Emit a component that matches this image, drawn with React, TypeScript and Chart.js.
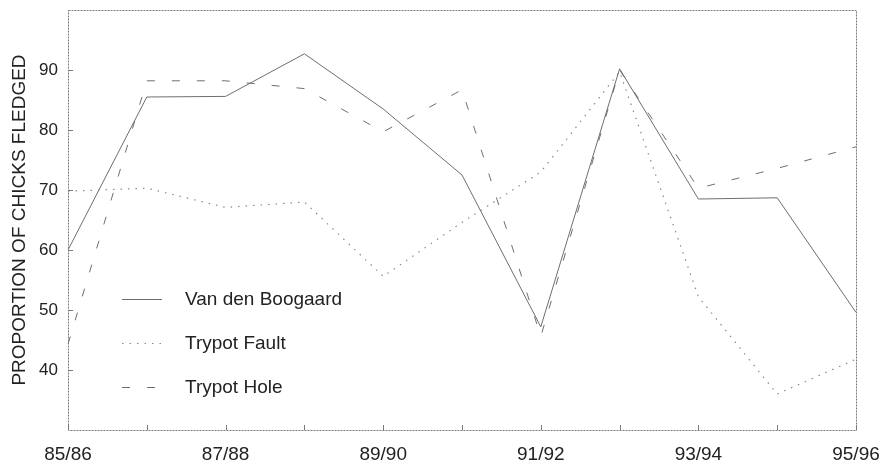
import React, { useEffect, useRef } from 'react';
import { Chart, registerables } from 'chart.js';

Chart.register(...registerables);

const seasons = ['85/86', '86/87', '87/88', '88/89', '89/90', '90/91', '91/92', '92/93', '93/94', '94/95', '95/96'];
const vanDenBoogaard = [60, 85.5, 85.6, 92.7, 83.5, 72.5, 47.2, 90.2, 68.5, 68.7, 49.6];
const trypotFault = [69.8, 70.3, 67.1, 68, 55.6, 64.6, 73, 89.7, 52.2, 36, 41.8];
const trypotHole = [44.3, 88.2, 88.2, 86.9, 79.7, 86.7, 45.6, 90, 70.3, 73.6, 77.2];
const seriesNames = ['Van den Boogaard', 'Trypot Fault', 'Trypot Hole'];
const yTickValues = [40, 50, 60, 70, 80, 90];
const yMin = 30;
const yMax = 100;
const yTitle = 'PROPORTION OF CHICKS FLEDGED';

const FONT = "'Liberation Sans', Arial, Helvetica, sans-serif";
const LINE = '#7a7a7a';
const TEXT = '#222222';

const framePlugin = {
  id: 'frame',
  afterDatasetsDraw(chart: any) {
    const { ctx, chartArea, scales } = chart;
    ctx.save();
    ctx.strokeStyle = LINE;
    ctx.lineWidth = 1;
    ctx.beginPath();
    scales.x.ticks.forEach((_t: any, i: number) => {
      const x = Math.round(scales.x.getPixelForTick(i)) + 0.5;
      ctx.moveTo(x, chartArea.bottom);
      ctx.lineTo(x, chartArea.bottom - 5);
    });
    scales.y.ticks.forEach((t: any, i: number) => {
      if (!yTickValues.includes(t.value)) return;
      const y = Math.round(scales.y.getPixelForTick(i)) + 0.5;
      ctx.moveTo(chartArea.left, y);
      ctx.lineTo(chartArea.left + 5, y);
    });
    ctx.stroke();
    ctx.setLineDash([2, 1]);
    ctx.strokeRect(
      Math.round(chartArea.left) + 0.5,
      Math.round(chartArea.top) + 0.5,
      Math.round(chartArea.width),
      Math.round(chartArea.height)
    );
    ctx.restore();
  },
};

const legendPlugin = {
  id: 'insideLegend',
  afterDraw(chart: any) {
    const { ctx, chartArea } = chart;
    ctx.save();
    chart.data.datasets.forEach((ds: any, i: number) => {
      const y = chartArea.bottom - 131 + i * 44 + 0.5;
      const x0 = chartArea.left + 54;
      ctx.strokeStyle = ds.borderColor;
      ctx.lineWidth = ds.borderWidth;
      ctx.setLineDash(ds.borderDash || []);
      ctx.beginPath();
      ctx.moveTo(x0, y);
      ctx.lineTo(x0 + 40, y);
      ctx.stroke();
      ctx.setLineDash([]);
      ctx.fillStyle = TEXT;
      ctx.font = `19px ${FONT}`;
      ctx.textBaseline = 'middle';
      ctx.textAlign = 'left';
      ctx.fillText(ds.label, chartArea.left + 117, y);
    });
    ctx.restore();
  },
};

export default function App() {
  const ref = useRef<HTMLCanvasElement | null>(null);

  useEffect(() => {
    document.body.style.margin = '0';
    const canvas = ref.current;
    if (!canvas) return;
    const chart = new Chart(canvas, {
      type: 'line',
      data: {
        labels: seasons,
        datasets: [
          {
            label: seriesNames[0],
            data: vanDenBoogaard,
            borderColor: '#6e6e6e',
            borderWidth: 1,
            pointRadius: 0,
            tension: 0,
            fill: false,
          },
          {
            label: seriesNames[1],
            data: trypotFault,
            borderColor: '#8a8a8a',
            borderWidth: 1.2,
            borderDash: [1.5, 6],
            pointRadius: 0,
            tension: 0,
            fill: false,
          },
          {
            label: seriesNames[2],
            data: trypotHole,
            borderColor: '#6e6e6e',
            borderWidth: 1,
            borderDash: [8, 17],
            pointRadius: 0,
            tension: 0,
            fill: false,
          },
        ],
      },
      options: {
        animation: false,
        responsive: true,
        maintainAspectRatio: false,
        layout: { padding: { top: 10, right: 25, left: 0, bottom: 0 } },
        plugins: {
          legend: { display: false },
          tooltip: { enabled: false },
        },
        scales: {
          x: {
            type: 'category',
            offset: false,
            grid: { display: false, drawTicks: false },
            border: { display: false },
            ticks: {
              autoSkip: false,
              maxRotation: 0,
              minRotation: 0,
              padding: 13,
              color: TEXT,
              font: { family: FONT, size: 19 },
              callback: (_v: any, i: number) => (i % 2 === 0 ? seasons[i] : ''),
            },
            afterFit: (scale: any) => {
              scale.height = 42;
              scale.paddingLeft = 0;
              scale.paddingRight = 0;
            },
          },
          y: {
            min: yMin,
            max: yMax,
            grid: { display: false, drawTicks: false },
            border: { display: false },
            ticks: {
              stepSize: 10,
              padding: 10,
              color: TEXT,
              font: { family: FONT, size: 17 },
              callback: (v: any) => (yTickValues.includes(Number(v)) ? String(v) : ''),
            },
            title: {
              display: true,
              text: yTitle,
              color: TEXT,
              font: { family: FONT, size: 19 },
              padding: { top: 8, bottom: 0 },
            },
            afterFit: (scale: any) => {
              scale.width = 68;
              scale.paddingTop = 0;
              scale.paddingBottom = 0;
            },
          },
        },
      },
      plugins: [framePlugin, legendPlugin],
    });
    return () => chart.destroy();
  }, []);

  return (
    <div style={{ position: 'fixed', left: 0, top: 0, width: 881, height: 472, background: '#fff' }}>
      <canvas ref={ref} />
    </div>
  );
}
